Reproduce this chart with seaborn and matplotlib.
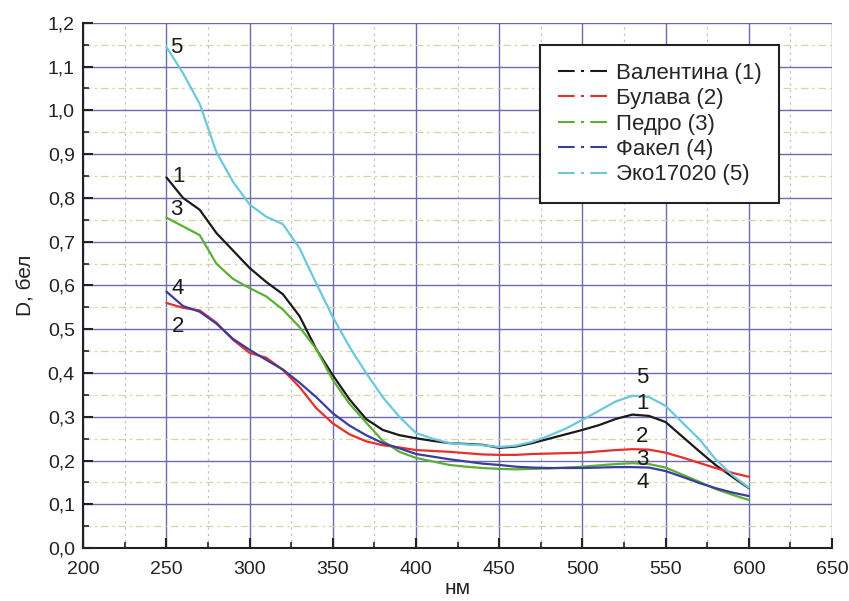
import numpy as np
import matplotlib.pyplot as plt
from matplotlib.lines import Line2D
from matplotlib.ticker import MultipleLocator, FuncFormatter
import pandas as pd
import seaborn as sns

# wavelength grid, nm
nm = [250, 260, 270, 280, 290, 300, 310, 320, 330, 340, 350, 360,
      370, 380, 390, 400, 410, 420, 430, 440, 450, 460, 470, 480,
      490, 500, 510, 520, 530, 540, 550, 560, 570, 580, 590, 600]

valentina = [0.847, 0.800, 0.773, 0.720, 0.680, 0.640, 0.608, 0.580, 0.530, 0.455, 0.395, 0.340,
             0.295, 0.270, 0.258, 0.251, 0.245, 0.240, 0.238, 0.236, 0.229, 0.232, 0.240, 0.250,
             0.260, 0.270, 0.281, 0.295, 0.305, 0.302, 0.288, 0.255, 0.222, 0.190, 0.163, 0.137]
bulava = [0.560, 0.549, 0.543, 0.515, 0.476, 0.446, 0.435, 0.407, 0.368, 0.320, 0.285, 0.260,
          0.244, 0.235, 0.230, 0.224, 0.222, 0.220, 0.217, 0.214, 0.213, 0.213, 0.215, 0.216,
          0.217, 0.218, 0.221, 0.224, 0.226, 0.225, 0.218, 0.207, 0.195, 0.183, 0.172, 0.163]
pedro = [0.755, 0.735, 0.715, 0.650, 0.615, 0.594, 0.575, 0.545, 0.505, 0.455, 0.384, 0.330,
         0.287, 0.245, 0.220, 0.206, 0.198, 0.190, 0.186, 0.183, 0.181, 0.180, 0.181, 0.182,
         0.184, 0.186, 0.189, 0.192, 0.194, 0.192, 0.184, 0.168, 0.152, 0.135, 0.122, 0.110]
fakel = [0.586, 0.553, 0.540, 0.513, 0.478, 0.453, 0.430, 0.408, 0.378, 0.345, 0.308, 0.280,
         0.258, 0.240, 0.228, 0.215, 0.209, 0.203, 0.198, 0.193, 0.190, 0.186, 0.184, 0.183,
         0.183, 0.183, 0.184, 0.185, 0.185, 0.184, 0.176, 0.163, 0.149, 0.137, 0.127, 0.119]
eko = [1.145, 1.085, 1.015, 0.905, 0.837, 0.785, 0.757, 0.740, 0.685, 0.605, 0.528, 0.460,
       0.400, 0.345, 0.300, 0.263, 0.250, 0.240, 0.237, 0.235, 0.231, 0.234, 0.243, 0.257,
       0.273, 0.293, 0.314, 0.335, 0.348, 0.345, 0.325, 0.287, 0.250, 0.203, 0.167, 0.138]

names = ["Валентина (1)", "Булава (2)", "Педро (3)", "Факел (4)", "Эко17020 (5)"]
colors = ["#1a1a1a", "#e8302a", "#5cae34", "#3c3c9c", "#6cc8dc"]

df = pd.DataFrame({"nm": nm})
for name, vals in zip(names, [valentina, bulava, pedro, fakel, eko]):
    df[name] = vals
long_df = df.melt(id_vars="nm", var_name="sort", value_name="D")

sns.set_theme(style="white")
plt.rcParams['font.family'] = ['Liberation Sans', 'DejaVu Sans']

fig = plt.figure(figsize=(8.49, 6.01), dpi=100)
ax = fig.add_axes([0.098, 0.088, 0.882, 0.874])

sns.lineplot(data=long_df, x="nm", y="D", hue="sort",
             palette=dict(zip(names, colors)), linewidth=1.6,
             legend=False, ax=ax, solid_joinstyle='round')

ax.set_xlim(200, 650)
ax.set_ylim(0, 1.2)
ax.xaxis.set_major_locator(MultipleLocator(50))
ax.xaxis.set_minor_locator(MultipleLocator(25))
ax.yaxis.set_major_locator(MultipleLocator(0.1))
ax.yaxis.set_minor_locator(MultipleLocator(0.05))
ax.yaxis.set_major_formatter(FuncFormatter(lambda v, p: f"{v:.1f}".replace('.', ',')))
ax.xaxis.set_major_formatter(FuncFormatter(lambda v, p: f"{v:.0f}"))

# grids
ax.grid(which='major', color='#6a6aae', linewidth=1.0, linestyle='-')
ax.yaxis.grid(which='minor', color='#d6d6a4', linewidth=0.9, linestyle=(0, (6, 3, 2, 3)))
ax.xaxis.grid(which='minor', color='#c4c4c4', linewidth=0.9, linestyle=(0, (2, 3)))
ax.set_axisbelow(True)

for side in ['top', 'right']:
    ax.spines[side].set_visible(False)
for side in ['left', 'bottom']:
    ax.spines[side].set_color('#222222')
    ax.spines[side].set_linewidth(1.5)

ax.tick_params(which='major', direction='in', length=7, width=1.5, color='#222222',
               labelsize=14, labelcolor='#222222', pad=6)
ax.tick_params(which='minor', direction='in', length=4, width=1.2, color='#222222')
ax.tick_params(axis='x', which='major', pad=9)
ax.tick_params(axis='x', which='both', bottom=True)
ax.tick_params(axis='y', which='both', left=True)

ax.set_xlabel("нм", fontsize=15, color='#222222', labelpad=1)
ax.set_ylabel("D, бел", fontsize=15, color='#222222', labelpad=9)

# curve numbers
for txt, x, y in [("5", 256, 1.143), ("1", 257, 0.848), ("3", 256, 0.773),
                  ("4", 257, 0.594), ("2", 257, 0.507),
                  ("5", 536, 0.389), ("1", 536, 0.331), ("2", 536, 0.254),
                  ("3", 536, 0.203), ("4", 536, 0.149)]:
    ax.text(x, y, txt, fontsize=16, ha='center', va='center', color='#1a1a1a')

handles = [Line2D([0], [0], color=c, linewidth=1.5, linestyle=(0, (8, 3, 1.5, 3)))
           for c in colors]
leg = ax.legend(handles, names, loc='upper left', bbox_to_anchor=(0.61, 0.958),
                borderaxespad=0, fontsize=16, frameon=True, fancybox=False,
                handlelength=2.2, handletextpad=0.4, labelspacing=0.2,
                borderpad=0.8)
leg.get_frame().set_edgecolor('#222222')
leg.get_frame().set_linewidth(1.5)
leg.get_frame().set_facecolor('white')
leg.get_frame().set_alpha(1)

plt.savefig("out.png", dpi=100)
